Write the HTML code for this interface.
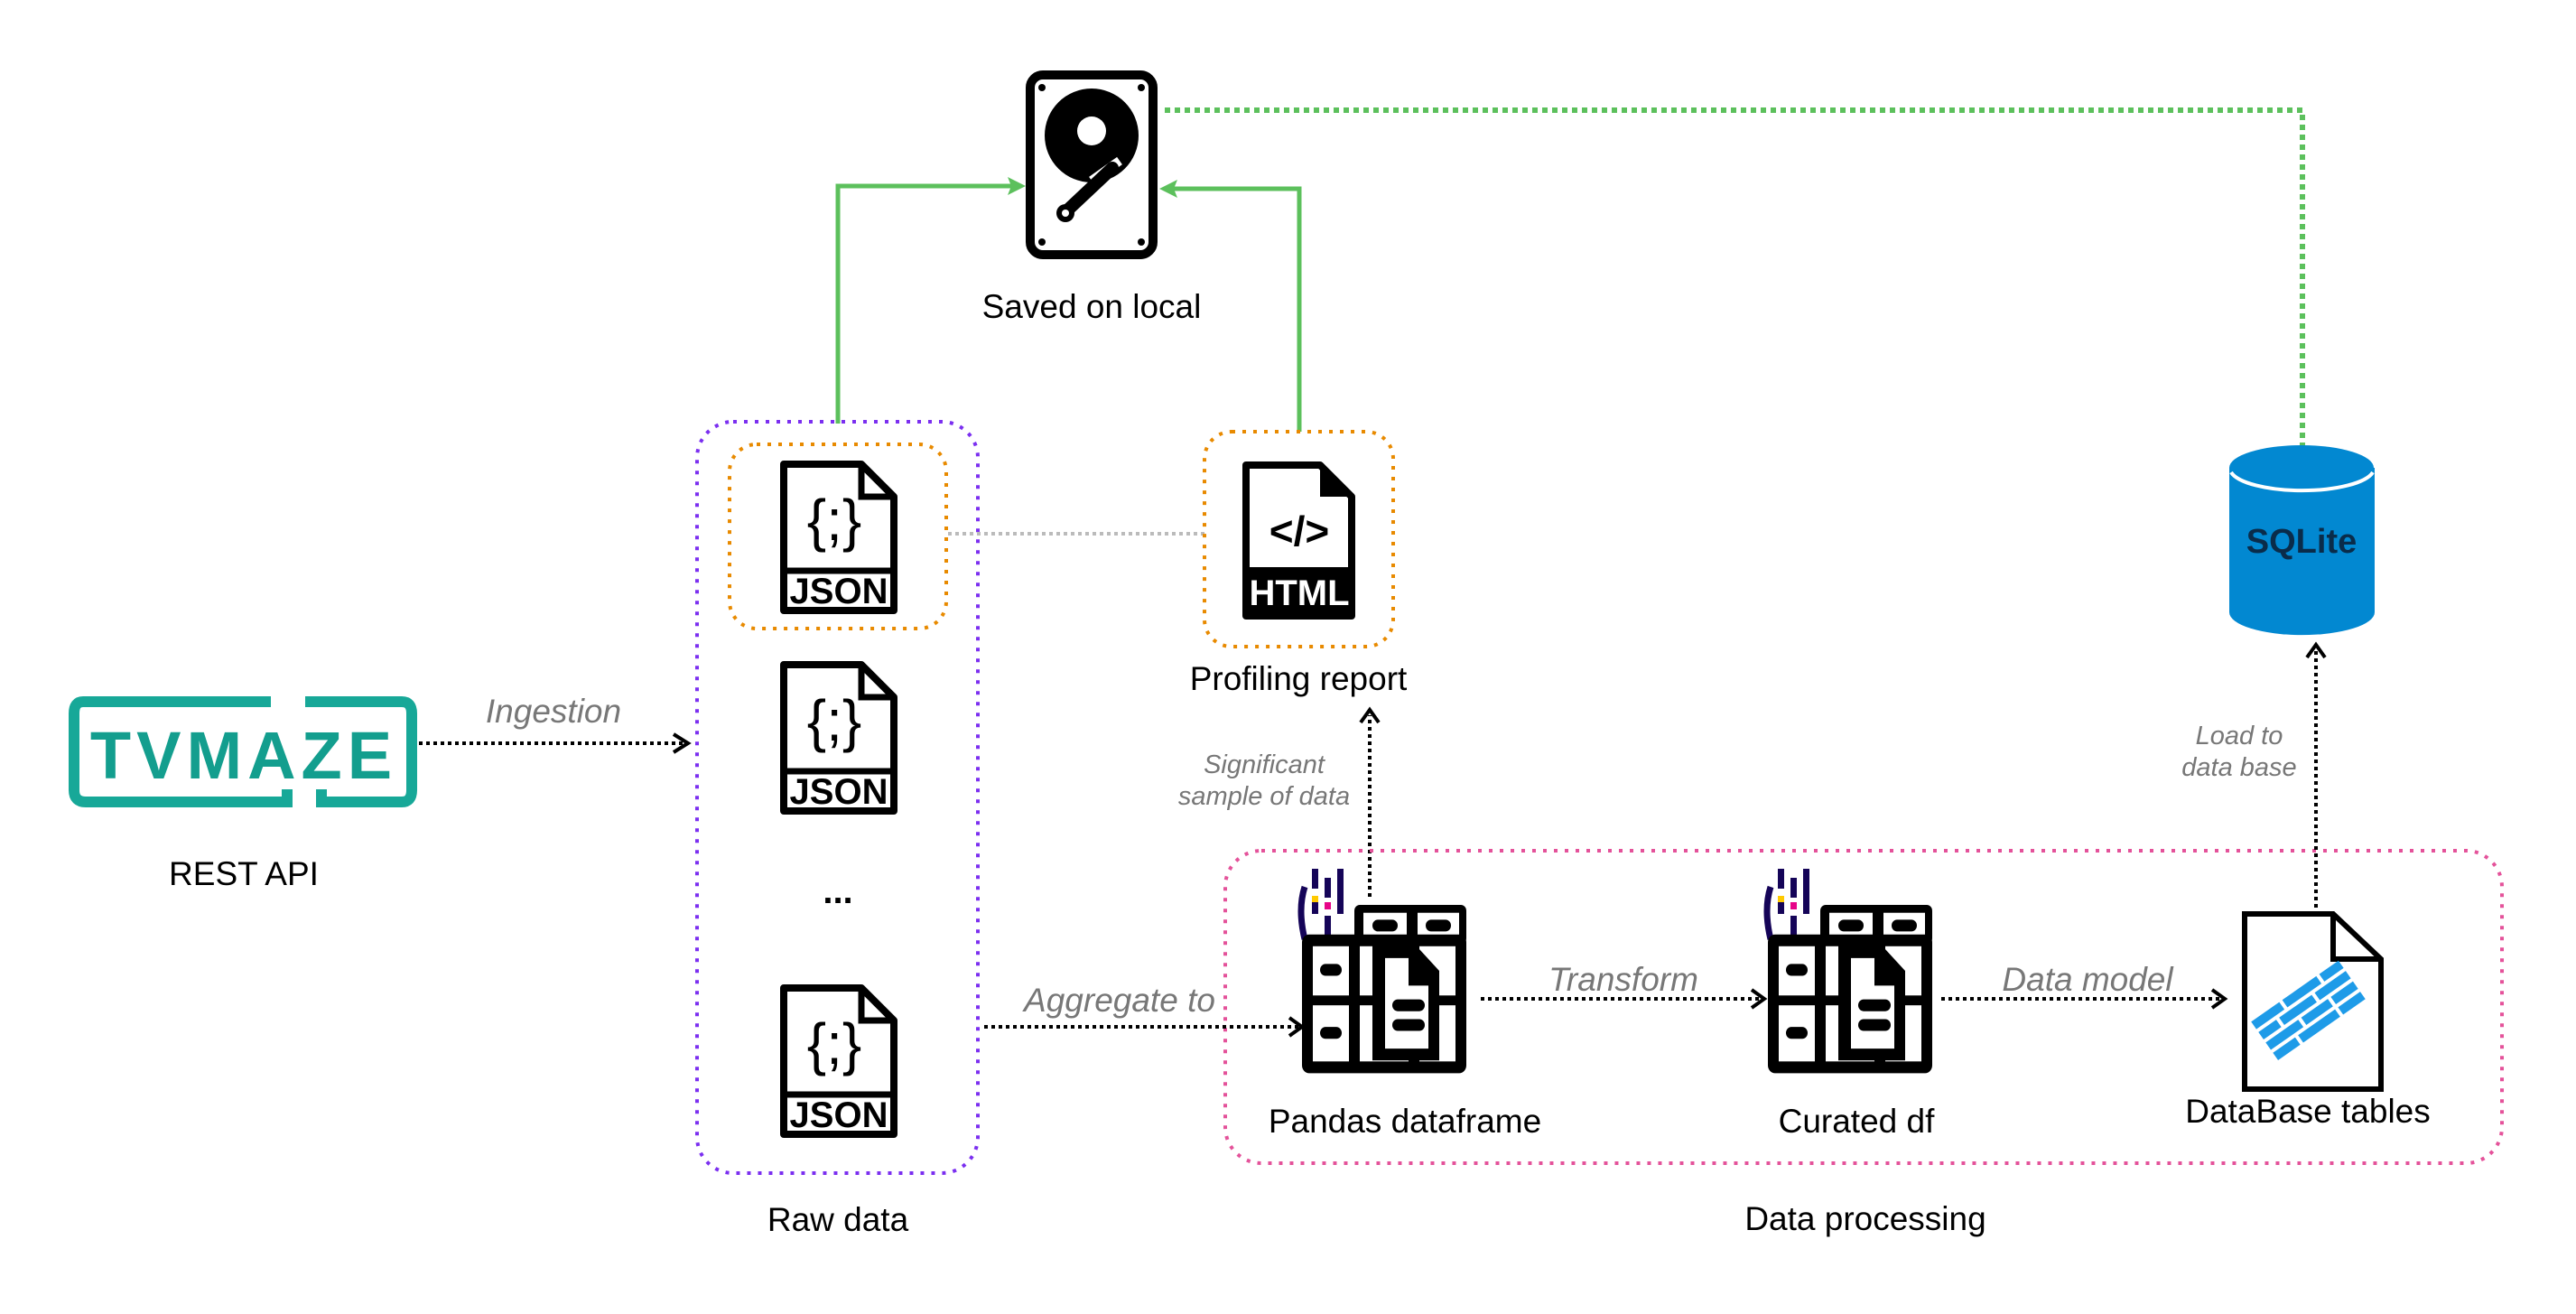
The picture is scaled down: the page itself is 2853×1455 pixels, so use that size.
<!DOCTYPE html>
<html><head><meta charset="utf-8"><style>
html,body{margin:0;padding:0;background:#fff;}
svg{display:block;}
text{font-family:"Liberation Sans",sans-serif;}
</style></head><body>
<svg width="2853" height="1455" viewBox="0 0 2853 1455" xmlns="http://www.w3.org/2000/svg">
<defs>
<g id="json">
<path d="M6,6 H92 L128,42 V168 H6 Z" fill="#fff" stroke="#000" stroke-width="8" stroke-linejoin="round"/>
<path d="M92,6 V42 H128" fill="none" stroke="#000" stroke-width="7"/>
<line x1="6" y1="124" x2="128" y2="124" stroke="#000" stroke-width="7"/>
<text x="67" y="160" font-size="40" text-anchor="middle" font-weight="bold" fill="#000">JSON</text>
<text x="62" y="90" font-size="64" text-anchor="middle" fill="#000">{;}</text>
</g>
<g id="pd">
<rect x="58" y="0" width="124" height="40" rx="6" fill="#000"/>
<rect x="68" y="8" width="48" height="26" fill="#fff"/><rect x="128" y="8" width="46" height="26" fill="#fff"/>
<rect x="78" y="15" width="28" height="12" rx="6" fill="#000"/><rect x="137" y="15" width="28" height="12" rx="6" fill="#000"/>
<rect x="0" y="30" width="182" height="141" rx="8" fill="#000"/>
<rect x="12" y="42" width="40" height="50" fill="#fff"/><rect x="12" y="102" width="40" height="57" fill="#fff"/>
<rect x="64" y="42" width="54" height="50" fill="#fff"/><rect x="64" y="102" width="54" height="57" fill="#fff"/>
<rect x="130" y="42" width="40" height="50" fill="#fff"/><rect x="130" y="102" width="40" height="57" fill="#fff"/>
<rect x="20" y="60" width="24" height="12" rx="6" fill="#000"/><rect x="20" y="124" width="24" height="12" rx="6" fill="#000"/>
<path d="M78,40 H125 L152,67 V158 H78 Z" fill="#000"/>
<path d="M92,54 H118 V82 H140 V146 H92 Z" fill="#fff"/>
<rect x="100" y="96" width="36" height="12" rx="6" fill="#000"/><rect x="100" y="116" width="36" height="12" rx="6" fill="#000"/>
</g>
<g id="plogo">
<path d="M8,20 Q0,45 8,78" stroke="#150458" stroke-width="7" fill="none"/>
<rect x="16" y="0" width="7" height="22" fill="#150458"/><rect x="16" y="32" width="7" height="18" fill="#150458"/><rect x="16" y="30" width="7" height="7" fill="#ffca00"/>
<rect x="30" y="10" width="7" height="22" fill="#150458"/><rect x="30" y="37" width="7" height="8" fill="#e70488"/><rect x="30" y="52" width="7" height="28" fill="#150458"/>
<rect x="44" y="0" width="7" height="50" fill="#150458"/>
</g>
</defs>

<polyline points="928,469 928,206 1128,206" fill="none" stroke="#5cc05c" stroke-width="5"/>
<path d="M1136,206 L1116,196 L1120,206 L1116,216 Z" fill="#5cc05c"/>
<polyline points="1439,478 1439,209 1292,209" fill="none" stroke="#5cc05c" stroke-width="5"/>
<path d="M1284,209 L1304,199 L1300,209 L1304,219 Z" fill="#5cc05c"/>
<polyline points="1290,122 2550,122 2550,495" fill="none" stroke="#5cc05c" stroke-width="6" stroke-dasharray="6,5"/>

<rect x="1141" y="83" width="136" height="199" rx="14" fill="#fff" stroke="#000" stroke-width="10"/>
<circle cx="1154" cy="97" r="4"/><circle cx="1264" cy="97" r="4"/><circle cx="1154" cy="268" r="4"/><circle cx="1264" cy="268" r="4"/>
<ellipse cx="1209" cy="150" rx="52" ry="52" fill="#000"/>
<circle cx="1209" cy="145" r="16" fill="#fff"/>
<path d="M1209,200 L1240,178" stroke="#fff" stroke-width="10"/>
<line x1="1182" y1="233" x2="1232" y2="186" stroke="#000" stroke-width="14" stroke-linecap="round"/>
<circle cx="1180" cy="236" r="10" fill="#000"/><circle cx="1180" cy="236" r="4" fill="#fff"/>
<text x="1209" y="352" font-size="37" text-anchor="middle">Saved on local</text>

<rect x="772" y="467" width="311" height="832" rx="40" fill="none" stroke="#7b2ff0" stroke-width="4" stroke-dasharray="4,8"/>
<rect x="808" y="492" width="240" height="204" rx="30" fill="none" stroke="#e88a00" stroke-width="4" stroke-dasharray="4,8"/>
<use href="#json" x="862" y="508"/>
<use href="#json" x="862" y="730"/>
<use href="#json" x="862" y="1088"/>
<text x="928" y="1000" font-size="40" text-anchor="middle" font-weight="bold">...</text>
<text x="928" y="1363" font-size="37" text-anchor="middle">Raw data</text>

<path d="M300,777 H92 Q82,777 82,790 V875 Q82,888 95,888 H318 V874" fill="none" stroke="#17a898" stroke-width="12"/>
<path d="M338,777 H445 Q456,777 456,790 V875 Q456,888 445,888 H356 V874" fill="none" stroke="#17a898" stroke-width="12"/>
<text x="270" y="862" font-size="74" text-anchor="middle" font-weight="bold" fill="#139e8e" letter-spacing="6">TVMAZE</text>
<text x="270" y="980" font-size="37" text-anchor="middle">REST API</text>

<line x1="464" y1="823" x2="756" y2="823" stroke="#000" stroke-width="4" stroke-dasharray="4,4"/>
<path d="M746,813 L762,823 L746,833" fill="none" stroke="#000" stroke-width="4"/>
<text x="613" y="800" font-size="37" font-style="italic" fill="#777" text-anchor="middle">Ingestion</text>

<line x1="1050" y1="591" x2="1334" y2="591" stroke="#bbb" stroke-width="4" stroke-dasharray="4,4"/>

<rect x="1334" y="478" width="209" height="238" rx="30" fill="none" stroke="#e88a00" stroke-width="4" stroke-dasharray="4,8"/>
<path d="M1380,515 H1462 L1497,550 V682 H1380 Z" fill="#fff" stroke="#000" stroke-width="8" stroke-linejoin="round"/>
<path d="M1462,515 V550 H1497 Z" fill="#000"/>
<rect x="1376" y="628" width="125" height="57" rx="4" fill="#000"/>
<text x="1439" y="670" font-size="40" font-weight="bold" fill="#fff" text-anchor="middle">HTML</text>
<text x="1439" y="604" font-size="46" text-anchor="middle" font-weight="bold">&lt;/&gt;</text>
<text x="1438" y="764" font-size="37" text-anchor="middle">Profiling report</text>

<line x1="1517" y1="993" x2="1517" y2="792" stroke="#000" stroke-width="4" stroke-dasharray="4,4"/>
<path d="M1507,800 L1517,786 L1527,800" fill="none" stroke="#000" stroke-width="4"/>
<text x="1400" y="856" font-size="29" font-style="italic" fill="#777" text-anchor="middle">Significant</text>
<text x="1400" y="891" font-size="29" font-style="italic" fill="#777" text-anchor="middle">sample of data</text>

<rect x="1357" y="942" width="1414" height="346" rx="40" fill="none" stroke="#e4529a" stroke-width="4" stroke-dasharray="4,8"/>

<line x1="1090" y1="1137" x2="1440" y2="1137" stroke="#000" stroke-width="4" stroke-dasharray="4,4"/>
<path d="M1428,1127 L1442,1137 L1428,1147" fill="none" stroke="#000" stroke-width="4"/>
<text x="1240" y="1120" font-size="37" font-style="italic" fill="#777" text-anchor="middle">Aggregate to</text>

<use href="#plogo" x="1437" y="962"/>
<g transform="translate(1442,1002) scale(1,1.09)"><use href="#pd"/></g>
<text x="1556" y="1254" font-size="37" text-anchor="middle">Pandas dataframe</text>

<use href="#plogo" x="1953" y="962"/>
<g transform="translate(1958,1002) scale(1,1.09)"><use href="#pd"/></g>
<text x="2056" y="1254" font-size="37" text-anchor="middle">Curated df</text>

<line x1="1640" y1="1106" x2="1952" y2="1106" stroke="#000" stroke-width="4" stroke-dasharray="4,4"/>
<path d="M1940,1096 L1954,1106 L1940,1116" fill="none" stroke="#000" stroke-width="4"/>
<text x="1798" y="1097" font-size="37" font-style="italic" fill="#777" text-anchor="middle">Transform</text>

<line x1="2150" y1="1106" x2="2462" y2="1106" stroke="#000" stroke-width="4" stroke-dasharray="4,4"/>
<path d="M2450,1096 L2464,1106 L2450,1116" fill="none" stroke="#000" stroke-width="4"/>
<text x="2312" y="1097" font-size="37" font-style="italic" fill="#777" text-anchor="middle">Data model</text>

<path d="M2486,1012 H2584 L2637,1062 V1206 H2486 Z" fill="#fff" stroke="#000" stroke-width="6"/>
<path d="M2584,1012 V1062 H2637" fill="none" stroke="#000" stroke-width="6"/>
<g transform="translate(2555,1115) rotate(-35)" fill="#1e9be8">
<rect x="-60" y="-22" width="38" height="10"/><rect x="-18" y="-22" width="46" height="10"/><rect x="32" y="-22" width="26" height="10"/>
<rect x="-60" y="-8" width="24" height="10"/><rect x="-32" y="-8" width="44" height="10"/><rect x="16" y="-8" width="42" height="10"/>
<rect x="-60" y="6" width="44" height="10"/><rect x="-12" y="6" width="36" height="10"/><rect x="28" y="6" width="30" height="10"/>
<rect x="-60" y="20" width="30" height="10"/><rect x="-26" y="20" width="50" height="10"/><rect x="28" y="20" width="30" height="10"/>
</g>
<text x="2556" y="1243" font-size="37" text-anchor="middle">DataBase tables</text>

<line x1="2565" y1="1005" x2="2565" y2="720" stroke="#000" stroke-width="4" stroke-dasharray="4,4"/>
<path d="M2555,728 L2565,714 L2575,728" fill="none" stroke="#000" stroke-width="4"/>
<text x="2480" y="824" font-size="29" font-style="italic" fill="#777" text-anchor="middle">Load to</text>
<text x="2480" y="859" font-size="29" font-style="italic" fill="#777" text-anchor="middle">data base</text>

<path d="M2469,518 V678 A80,25 0 0 0 2630,678 V518 Z" fill="#0288d1"/>
<ellipse cx="2549" cy="518" rx="80" ry="25" fill="#0288d1"/>
<path d="M2471,523 A80,25 0 0 0 2628,523" fill="none" stroke="#fff" stroke-width="4"/>
<text x="2549" y="612" font-size="38" font-weight="bold" fill="#0a2c4a" text-anchor="middle">SQLite</text>

<text x="2066" y="1362" font-size="37" text-anchor="middle">Data processing</text>
</svg>
</body></html>
